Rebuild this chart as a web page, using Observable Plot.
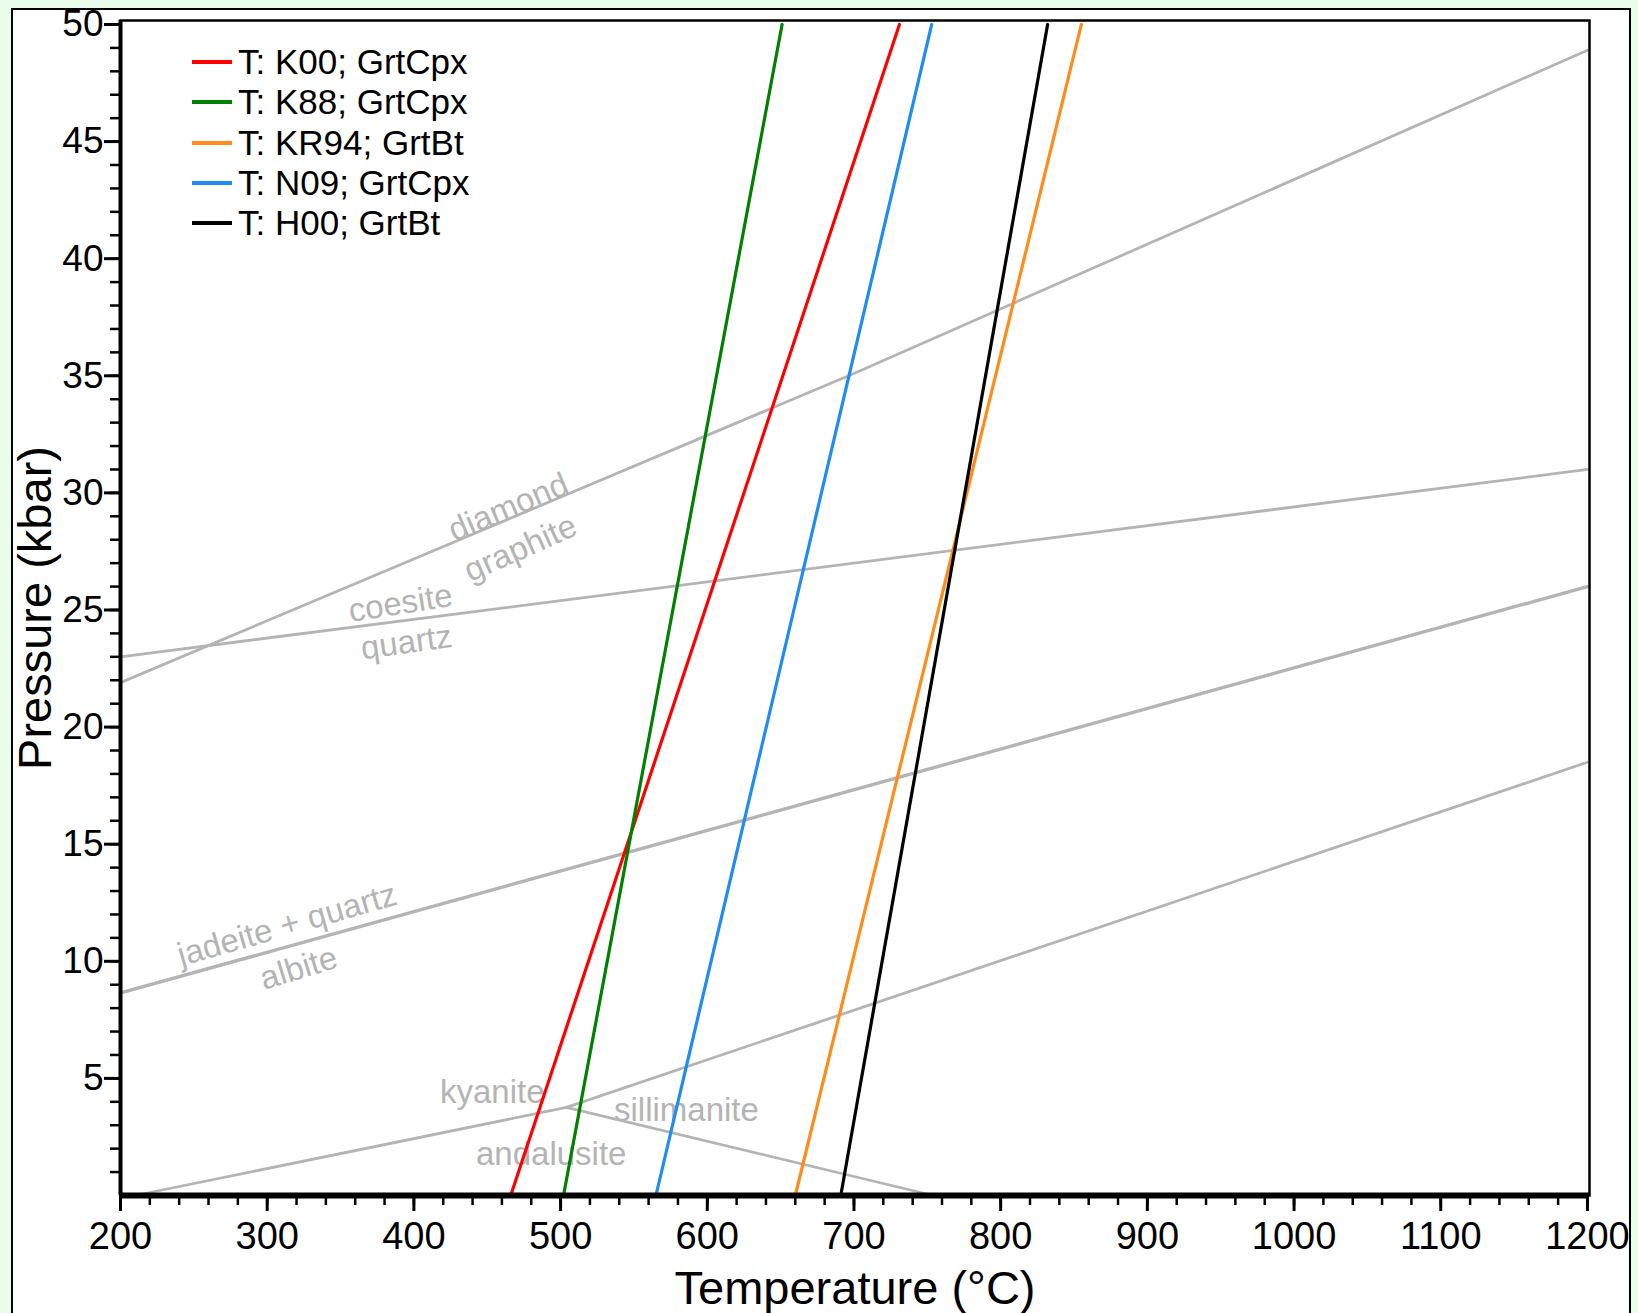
<!DOCTYPE html>
<html>
<head>
<meta charset="utf-8">
<script src="https://cdn.jsdelivr.net/npm/d3@7"></script>
<script src="https://cdn.jsdelivr.net/npm/@observablehq/plot@0.6"></script>
<style>
  html, body { margin: 0; padding: 0; overflow: hidden; width: 1638px; height: 1313px; }
  body { background: #eafdea; font-family: "Liberation Sans", Arial, sans-serif; position: relative; }
  #panel { position: absolute; left: 11px; top: 8px; width: 1620px; height: 1400px; border: 2px solid #000; background: #fff; box-sizing: border-box; }
  #chart { position: absolute; left: 0; top: 0; width: 1638px; height: 1313px; }
  #legend { position: absolute; left: 192px; top: 42px; font-size: 35px; color: #000; }
  #legend .row { display: flex; align-items: center; height: 40.25px; white-space: nowrap; }
  #legend .sw { display: inline-block; width: 40px; height: 4px; margin-right: 6px; }
</style>
</head>
<body>
<div id="panel"></div>
<div id="chart"></div>
<div id="legend"></div>
<script>
// ---- axis ticks ----
const majorX = [200, 300, 400, 500, 600, 700, 800, 900, 1000, 1100, 1200];
const minorX = d3.range(200, 1201, 20);
const majorY = [5, 10, 15, 20, 25, 30, 35, 40, 45, 50];
const minorY = d3.range(1, 51, 1);

// ---- thermometers (straight isopleths, T at P = 0 and P = 50 kbar) ----
const thermoNames = ["T: K00; GrtCpx", "T: K88; GrtCpx", "T: KR94; GrtBt", "T: N09; GrtCpx", "T: H00; GrtBt"];
const thermoColors = ["#ff0000", "#008000", "#ff8c1a", "#1e8cf0", "#000000"];
const thermoT0 = [466, 502, 660, 565, 691];
const thermoT50 = [731, 651, 855, 753, 832];
const thermoP = [0, 50];

// ---- reaction curves (gray) ----
const rxnNames = ["diamond-graphite", "coesite-quartz", "jadeite+quartz-albite", "kyanite-sillimanite", "andalusite-kyanite", "andalusite-sillimanite"];
const rxnT = [[200, 700, 1200], [200, 1200], [200, 1200], [504, 1200], [210, 504], [504, 754]];
const rxnP = [[21.9, 35.1, 48.9], [23.0, 31.0], [8.65, 26.0], [3.76, 18.5], [0, 3.76], [3.76, 0]];
const rxnWidth = [2.8, 2.8, 3.4, 2.8, 2.8, 2.8];

// ---- reaction labels ----
const labelText = ["diamond", "graphite", "coesite", "quartz", "jadeite + quartz", "albite", "kyanite", "sillimanite", "andalusite"];
const labelT = [464.5, 472.7, 390.9, 395, 313.6, 321.5, 453.4, 585.8, 493.6];
const labelP = [29.38, 27.63, 25.28, 23.61, 11.55, 9.7, 4.41, 3.63, 1.75];
const labelAngle = [-23, -24, -9, -8, -16, -17, 0, 0, 0];

const xTitle = "Temperature (°C)";
const yTitle = "Pressure (kbar)";

// build tables
const thermoRows = thermoNames.flatMap((name, i) => [
  {name, T: thermoT0[i], P: thermoP[0]},
  {name, T: thermoT50[i], P: thermoP[1]}
]);
const rxnRows = rxnNames.flatMap((name, i) => rxnT[i].map((T, j) => ({name, T, P: rxnP[i][j], w: rxnWidth[i]})));
const labelRows = labelText.map((text, i) => ({text, T: labelT[i], P: labelP[i], a: labelAngle[i]}));

const GRAY = "#b4b4b4";

const chart = Plot.plot({
  width: 1638,
  height: 1313,
  marginLeft: 120,
  marginRight: 49,
  marginTop: 20,
  marginBottom: 118,
  style: {background: "transparent", fontFamily: "Liberation Sans, Arial, sans-serif", color: "#000"},
  x: {domain: [200, 1201.4], label: null},
  y: {domain: [0, 50.17], label: null},
  color: {domain: thermoNames, range: thermoColors},
  marks: [
    Plot.line(rxnRows, {x: "T", y: "P", z: "name", stroke: GRAY, strokeWidth: "w"}),
    Plot.text(labelRows, {x: "T", y: "P", text: "text", rotate: "a", fill: GRAY, fontSize: 33}),
    Plot.line(thermoRows, {x: "T", y: "P", z: "name", stroke: "name", strokeWidth: 3.2}),
    Plot.frame({stroke: "#000", strokeWidth: 2.5}),
    Plot.ruleX([200], {stroke: "#000", strokeWidth: 4}),
    Plot.ruleY([0], {stroke: "#000", strokeWidth: 6}),
    Plot.axisX(minorX, {tickSize: 10, tickFormat: () => "", strokeWidth: 2.5, label: null}),
    Plot.axisX(majorX, {tickSize: 16, tickPadding: 11, strokeWidth: 3, fontSize: 38, tickFormat: d => String(d), label: null}),
    Plot.axisY(minorY, {tickSize: 10, tickFormat: () => "", strokeWidth: 2.5, label: null}),
    Plot.axisY(majorY, {tickSize: 16, tickPadding: 1, strokeWidth: 3, fontSize: 37, tickFormat: d => String(d), label: null}),
    Plot.text([xTitle], {text: d => d, frameAnchor: "bottom", lineAnchor: "middle", textAnchor: "middle", dy: 93, fontSize: 47, fill: "#000"}),
    Plot.text([yTitle], {text: d => d, frameAnchor: "left", lineAnchor: "middle", textAnchor: "middle", rotate: -90, dx: -85, fontSize: 47, fill: "#000"})
  ]
});
document.getElementById("chart").appendChild(chart);

// legend
const legend = document.getElementById("legend");
thermoNames.forEach((name, i) => {
  const row = document.createElement("div");
  row.className = "row";
  const sw = document.createElement("span");
  sw.className = "sw";
  sw.style.background = thermoColors[i];
  const t = document.createElement("span");
  t.textContent = name;
  row.appendChild(sw);
  row.appendChild(t);
  legend.appendChild(row);
});
</script>
</body>
</html>
